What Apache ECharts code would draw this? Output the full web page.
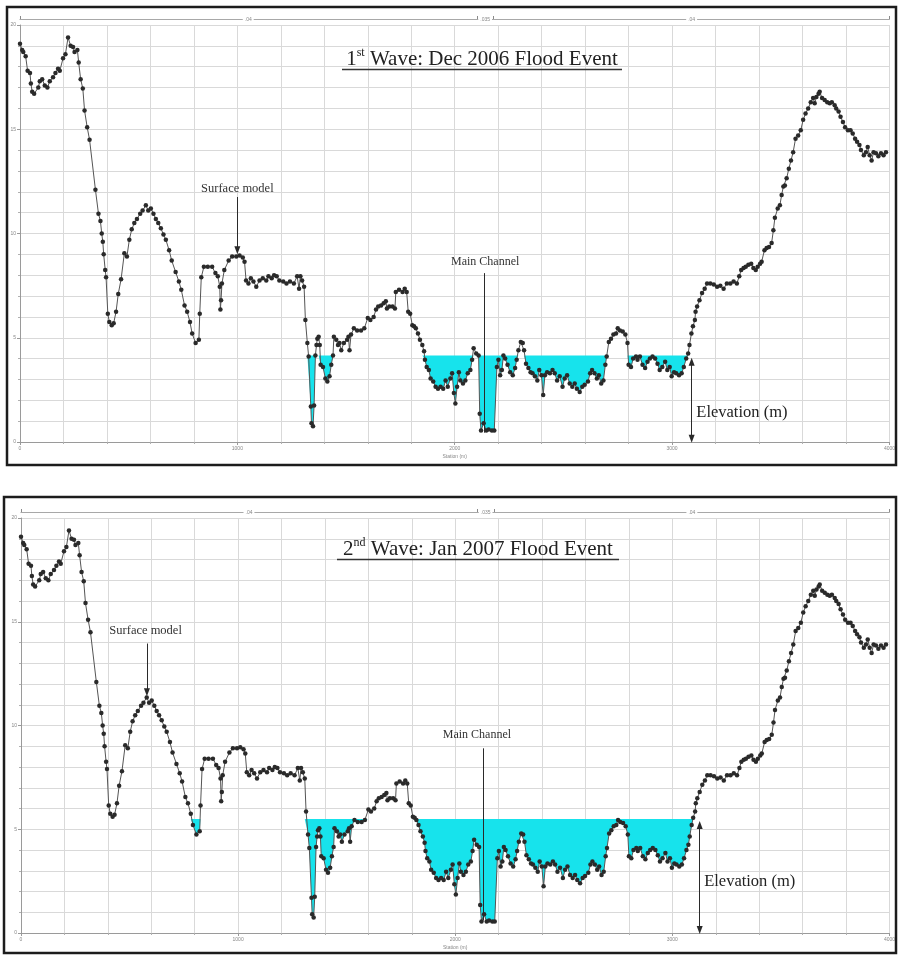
<!DOCTYPE html>
<html>
<head>
<meta charset="utf-8">
<script src="https://cdn.jsdelivr.net/npm/echarts@6/dist/echarts.min.js"></script>
<style>
  html, body { margin: 0; padding: 0; background: #fff; }
  #chart { width: 898px; height: 959px; }
</style>
</head>
<body>
<div id="chart"></div>
<script>
// Cross-section ground survey: station along section (m) and ground elevation (m)
const stations = [
  0, 10, 15, 26, 35, 46, 50, 56, 65, 84, 91, 102, 114, 126, 137, 152, 163, 175, 183, 198,
  209, 221, 233, 244, 251, 264, 270, 279, 289, 297, 309, 320, 347, 361, 370, 376, 381, 385, 392, 396,
  404, 411, 422, 431, 442, 452, 465, 480, 492, 503, 514, 526, 538, 553, 564, 579, 590, 602, 614, 625,
  636, 648, 660, 671, 686, 698, 716, 731, 742, 757, 769, 782, 792, 808, 823, 827, 834, 846, 864, 884,
  899, 910, 919, 922, 925, 929, 940, 960, 976, 995, 1010, 1025, 1033, 1040, 1051, 1062, 1074, 1087, 1102, 1117,
  1133, 1143, 1158, 1169, 1181, 1193, 1211, 1226, 1242, 1260, 1275, 1284, 1290, 1298, 1307, 1313, 1322, 1328, 1338, 1341,
  1348, 1353, 1359, 1364, 1368, 1374, 1379, 1383, 1394, 1405, 1414, 1424, 1432, 1440, 1444, 1455, 1463, 1470, 1478, 1490,
  1505, 1511, 1516, 1523, 1536, 1551, 1569, 1584, 1600, 1612, 1627, 1638, 1648, 1661, 1673, 1683, 1688, 1699, 1714, 1725,
  1729, 1744, 1760, 1770, 1779, 1786, 1795, 1805, 1813, 1821, 1831, 1840, 1851, 1859, 1863, 1871, 1881, 1889, 1901, 1912,
  1923, 1935, 1947, 1958, 1968, 1980, 1988, 1996, 2003, 2011, 2019, 2026, 2038, 2049, 2060, 2072, 2080, 2087, 2099, 2110,
  2115, 2121, 2133, 2145, 2156, 2171, 2182, 2194, 2201, 2209, 2217, 2224, 2232, 2243, 2255, 2267, 2278, 2285, 2293, 2304,
  2313, 2319, 2328, 2339, 2349, 2358, 2369, 2380, 2389, 2399, 2407, 2415, 2425, 2438, 2450, 2460, 2471, 2483, 2496, 2506,
  2517, 2529, 2541, 2552, 2562, 2575, 2587, 2598, 2613, 2623, 2632, 2643, 2654, 2663, 2674, 2684, 2693, 2699, 2709, 2719,
  2730, 2742, 2750, 2760, 2773, 2785, 2795, 2800, 2811, 2821, 2834, 2841, 2852, 2864, 2876, 2887, 2898, 2910, 2922, 2933,
  2943, 2955, 2968, 2978, 2989, 2998, 3009, 3019, 3032, 3044, 3054, 3065, 3074, 3080, 3089, 3096, 3105, 3108, 3115, 3126,
  3138, 3150, 3161, 3176, 3192, 3207, 3222, 3237, 3252, 3268, 3283, 3298, 3309, 3318, 3329, 3339, 3351, 3364, 3374, 3385,
  3394, 3405, 3412, 3425, 3435, 3446, 3458, 3466, 3473, 3486, 3496, 3504, 3512, 3519, 3527, 3537, 3547, 3557, 3568, 3580,
  3592, 3603, 3614, 3626, 3638, 3649, 3656, 3664, 3674, 3679, 3690, 3702, 3714, 3725, 3735, 3748, 3755, 3766, 3775, 3786,
  3796, 3809, 3821, 3831, 3842, 3851, 3862, 3869, 3882, 3892, 3900, 3909, 3918, 3927, 3938, 3949, 3961, 3973, 3984
];
const elevations = [
  19.1, 18.8, 18.7, 18.5, 17.8, 17.7, 17.2, 16.8, 16.7, 17.0, 17.3, 17.4, 17.1, 17.0, 17.3, 17.5, 17.7, 17.9, 17.8, 18.4,
  18.6, 19.4, 19.0, 18.95, 18.7, 18.8, 18.2, 17.4, 16.95, 15.9, 15.1, 14.5, 12.1, 10.95, 10.6, 10.0, 9.6, 9.0, 8.25, 7.9,
  6.15, 5.75, 5.6, 5.7, 6.25, 7.1, 7.8, 9.05, 8.9, 9.7, 10.2, 10.5, 10.7, 10.95, 11.1, 11.35, 11.1, 11.2, 10.95, 10.7,
  10.5, 10.25, 9.95, 9.7, 9.2, 8.7, 8.15, 7.7, 7.3, 6.55, 6.25, 5.75, 5.2, 4.75, 4.9, 6.15, 7.9, 8.4, 8.4, 8.4,
  8.1, 7.95, 7.45, 6.35, 6.8, 7.6, 8.25, 8.7, 8.9, 8.9, 8.95, 8.85, 8.65, 7.75, 7.6, 7.85, 7.7, 7.45, 7.75, 7.85,
  7.75, 7.95, 7.85, 8.0, 7.95, 7.75, 7.7, 7.6, 7.7, 7.6, 7.95, 7.35, 7.95, 7.75, 7.45, 5.85, 4.75, 4.1, 1.7, 0.9,
  0.75, 1.75, 4.15, 4.65, 4.95, 5.05, 4.65, 3.7, 3.6, 3.05, 2.9, 3.15, 3.7, 4.15, 5.05, 4.9, 4.65, 4.75, 4.4, 4.75,
  4.9, 5.05, 4.4, 5.15, 5.45, 5.35, 5.35, 5.45, 5.95, 5.85, 6.0, 6.35, 6.5, 6.55, 6.65, 6.75, 6.4, 6.5, 6.5, 6.4,
  7.2, 7.3, 7.2, 7.35, 7.2, 6.25, 6.15, 5.6, 5.55, 5.45, 5.2, 4.9, 4.65, 4.35, 3.95, 3.6, 3.45, 3.05, 2.9, 2.65,
  2.55, 2.65, 2.55, 2.95, 2.65, 3.05, 3.3, 2.35, 1.85, 2.65, 3.35, 2.95, 2.8, 2.95, 3.3, 3.45, 3.95, 4.5, 4.25, 4.15,
  1.35, 0.55, 0.9, 0.55, 0.6, 0.55, 0.55, 3.6, 3.95, 3.2, 3.45, 4.15, 4.0, 3.7, 3.35, 3.2, 3.55, 3.95, 4.4, 4.8,
  4.75, 4.4, 3.75, 3.55, 3.35, 3.3, 3.15, 2.95, 3.45, 3.2, 2.25, 3.2, 3.35, 3.3, 3.45, 3.3, 2.95, 3.15, 2.65, 3.05,
  3.2, 2.8, 2.65, 2.8, 2.55, 2.4, 2.65, 2.75, 2.9, 3.3, 3.45, 3.3, 3.05, 3.2, 2.8, 2.95, 3.7, 4.1, 4.8, 4.95,
  5.15, 5.2, 5.45, 5.35, 5.3, 5.15, 4.75, 3.7, 3.6, 4.0, 4.1, 3.95, 4.1, 3.7, 3.55, 3.85, 4.0, 4.1, 4.0, 3.75,
  3.45, 3.6, 3.85, 3.45, 3.6, 3.15, 3.35, 3.3, 3.2, 3.3, 3.6, 4.0, 4.25, 4.65, 5.2, 5.55, 5.85, 6.25, 6.5, 6.8,
  7.15, 7.35, 7.6, 7.6, 7.55, 7.45, 7.5, 7.35, 7.6, 7.6, 7.7, 7.6, 7.95, 8.25, 8.35, 8.4, 8.5, 8.55, 8.35, 8.25,
  8.4, 8.55, 8.65, 9.2, 9.3, 9.35, 9.55, 10.15, 10.75, 11.2, 11.35, 11.85, 12.25, 12.3, 12.65, 13.1, 13.5, 13.9, 14.55, 14.7,
  14.95, 15.45, 15.75, 16.0, 16.3, 16.5, 16.25, 16.55, 16.7, 16.8, 16.5, 16.4, 16.3, 16.25, 16.3, 16.15, 16.0, 15.85, 15.6, 15.35,
  15.1, 14.95, 14.95, 14.8, 14.55, 14.4, 14.25, 14.0, 13.75, 13.9, 14.15, 13.75, 13.5, 13.9, 13.85, 13.7, 13.85, 13.75, 13.9
];

// Flood water surface elevation for each event (m)
const waterLevels = [4.15, 5.5];
const titleParts = [
  ['1', 'st', ' Wave: Dec 2006 Flood Event'],
  ['2', 'nd', ' Wave: Jan 2007 Flood Event']
];

// Manning's n values along the section and the bank stations
const roughnessStations = [1050, 2140, 3090];
const roughnessLabels = ['.04', '.035', '.04'];
const bankStations = [2102, 2178];

// Annotation anchors per panel (station, elevation)
const surfaceNote = [
  { text: [1000, 12.15], from: [1000, 11.75], to: [1000, 9.2] },
  { text: [574, 14.55], from: [580, 13.95], to: [580, 11.6] }
];
const channelNote = [
  { text: [2140, 8.65], from: [2134, 8.1], to: [2134, 0.45] },
  { text: [2100, 9.55], from: [2130, 8.9], to: [2130, 0.6] }
];
const elevationNote = [
  { text: [3100, 1.4], from: [3090, 3.85], to: [3090, 0.15] },
  { text: [3135, 2.45], from: [3126, 5.2], to: [3126, 0.15] }
];

const SERIF = '"Liberation Serif", "Times New Roman", serif';
const SANS = '"Liberation Sans", Arial, sans-serif';
const WATER = '#17e3ec';
const GRIDC = '#d9d9d9';

const chart = echarts.init(document.getElementById('chart'), null, { renderer: 'canvas' });

const grids = [
  { left: 20, right: 3, top: 25, height: 417 },
  { left: 21, right: 2, top: 518, height: 415 }
];

const plain = v => String(v);

const xAxes = [];
const yAxes = [];
grids.forEach((g, i) => {
  xAxes.push({
    type: 'value', gridIndex: i, min: 0, max: 4000, interval: 1000,
    name: 'Station (m)', nameLocation: 'middle', nameGap: 12,
    nameTextStyle: { fontSize: 5, color: '#888', fontFamily: SANS },
    axisLine: { show: true, lineStyle: { color: '#9a9a9a', width: 1 } },
    axisTick: { show: true, length: 3, lineStyle: { color: '#9a9a9a' } },
    minorTick: { show: true, splitNumber: 5, length: 2, lineStyle: { color: '#b0b0b0' } },
    axisLabel: { fontSize: 5, color: '#888', margin: 4, fontFamily: SANS, formatter: plain },
    splitLine: { show: true, lineStyle: { color: GRIDC, width: 1 } },
    minorSplitLine: { show: true, lineStyle: { color: GRIDC, width: 1 } }
  });
  // roughness strip along the top of each panel
  xAxes.push({
    type: 'value', gridIndex: i, min: 0, max: 4000, position: 'top', offset: 6,
    axisLine: { show: true, lineStyle: { color: '#a8a8a8', width: 1.2 } },
    axisTick: { show: true, length: 3, inside: false, customValues: [0].concat(bankStations, [4000]),
                lineStyle: { color: '#8a8a8a', width: 1 } },
    axisLabel: {
      show: true, fontSize: 5, color: '#888', margin: -3, fontFamily: SANS,
      backgroundColor: '#fff', padding: [0, 2],
      customValues: roughnessStations,
      formatter: v => roughnessLabels[roughnessStations.indexOf(v)] || ''
    },
    splitLine: { show: false }
  });
  yAxes.push({
    type: 'value', gridIndex: i, min: 0, max: 20, interval: 5,
    axisLine: { show: true, lineStyle: { color: '#9a9a9a', width: 1 } },
    axisTick: { show: true, length: 3, lineStyle: { color: '#9a9a9a' } },
    minorTick: { show: true, splitNumber: 5, length: 2, lineStyle: { color: '#b0b0b0' } },
    axisLabel: { fontSize: 5, color: '#888', margin: 4, fontFamily: SANS, formatter: plain },
    splitLine: { show: true, lineStyle: { color: GRIDC, width: 1 } },
    minorSplitLine: { show: true, lineStyle: { color: GRIDC, width: 1 } }
  });
});

function noteText(coord, text, size, extra) {
  return Object.assign({
    coord: coord, symbol: 'circle', symbolSize: 1,
    itemStyle: { color: 'rgba(0,0,0,0)' },
    label: { show: true, formatter: text, position: 'inside', fontSize: size,
             fontFamily: SERIF, color: '#333' }
  }, extra || {});
}

const series = [];
waterLevels.forEach((W, i) => {
  const ground = stations.map((s, k) => [s, elevations[k]]);
  const wet = stations.map((s, k) => [s, Math.min(elevations[k], W)]);
  series.push({
    type: 'line', xAxisIndex: i * 2, yAxisIndex: i, data: wet,
    showSymbol: false, symbol: 'none', silent: true, z: 1,
    lineStyle: { width: 0, opacity: 0 },
    areaStyle: { color: WATER, opacity: 1, origin: W }
  });
  const sn = surfaceNote[i], cn = channelNote[i], en = elevationNote[i];
  series.push({
    type: 'line', xAxisIndex: i * 2, yAxisIndex: i, data: ground, z: 3,
    symbol: 'circle', symbolSize: 4.5, showSymbol: true, showAllSymbol: true,
    itemStyle: { color: '#2a2a2a' },
    lineStyle: { color: '#555', width: 1 },
    markLine: {
      silent: true, animation: false, precision: 3,
      label: { show: false },
      lineStyle: { color: '#2a2a2a', width: 1, type: 'solid' },
      data: [
        [{ coord: sn.from, symbol: 'none' }, { coord: sn.to, symbol: 'triangle', symbolSize: [6, 8] }],
        [{ coord: cn.from, symbol: 'none' }, { coord: cn.to, symbol: 'none' }],
        [{ coord: en.from, symbol: 'triangle', symbolSize: [6, 8] }, { coord: en.to, symbol: 'triangle', symbolSize: [6, 8] }]
      ]
    },
    markPoint: {
      silent: true, animation: false,
      data: [
        noteText(sn.text, 'Surface model', 12.5),
        noteText(cn.text, 'Main Channel', 12),
        noteText(en.text, 'Elevation (m)', 16.5, {
          label: { show: true, formatter: 'Elevation (m)', position: 'right', distance: 2,
                   fontSize: 16.5, fontFamily: SERIF, color: '#222' }
        })
      ]
    }
  });
});

// panel frames and underlined titles
const frames = [
  { x: 7, y: 7, w: 889, h: 458 },
  { x: 4, y: 497, w: 892, h: 456 }
];
const titles = [
  { x: 482, y: 59, ux: [342, 622], uy: 69.5 },
  { x: 478, y: 549, ux: [337, 619], uy: 559.5 }
];
const graphic = [];
frames.forEach(f => graphic.push({
  type: 'rect', silent: true, z: 10,
  shape: { x: f.x, y: f.y, width: f.w, height: f.h },
  style: { fill: null, stroke: '#1c1c1c', lineWidth: 2.5 }
}));
titles.forEach((t, i) => {
  const p = titleParts[i];
  graphic.push({
    type: 'text', silent: true, z: 10, x: t.x, y: t.y,
    style: {
      text: '{a|' + p[0] + '}{b|' + p[1] + '}{a|' + p[2] + '}',
      align: 'center', verticalAlign: 'middle',
      rich: {
        a: { fontSize: 21, fontFamily: SERIF, fill: '#222', color: '#222', lineHeight: 24 },
        b: { fontSize: 12, fontFamily: SERIF, fill: '#222', color: '#222', verticalAlign: 'top', lineHeight: 13 }
      }
    }
  });
  graphic.push({
    type: 'line', silent: true, z: 10,
    shape: { x1: t.ux[0], y1: t.uy, x2: t.ux[1], y2: t.uy },
    style: { stroke: '#333', lineWidth: 1.3 }
  });
});

chart.setOption({
  backgroundColor: '#fff',
  animation: false,
  grid: grids,
  xAxis: xAxes,
  yAxis: yAxes,
  series: series,
  graphic: graphic
});
</script>
</body>
</html>
